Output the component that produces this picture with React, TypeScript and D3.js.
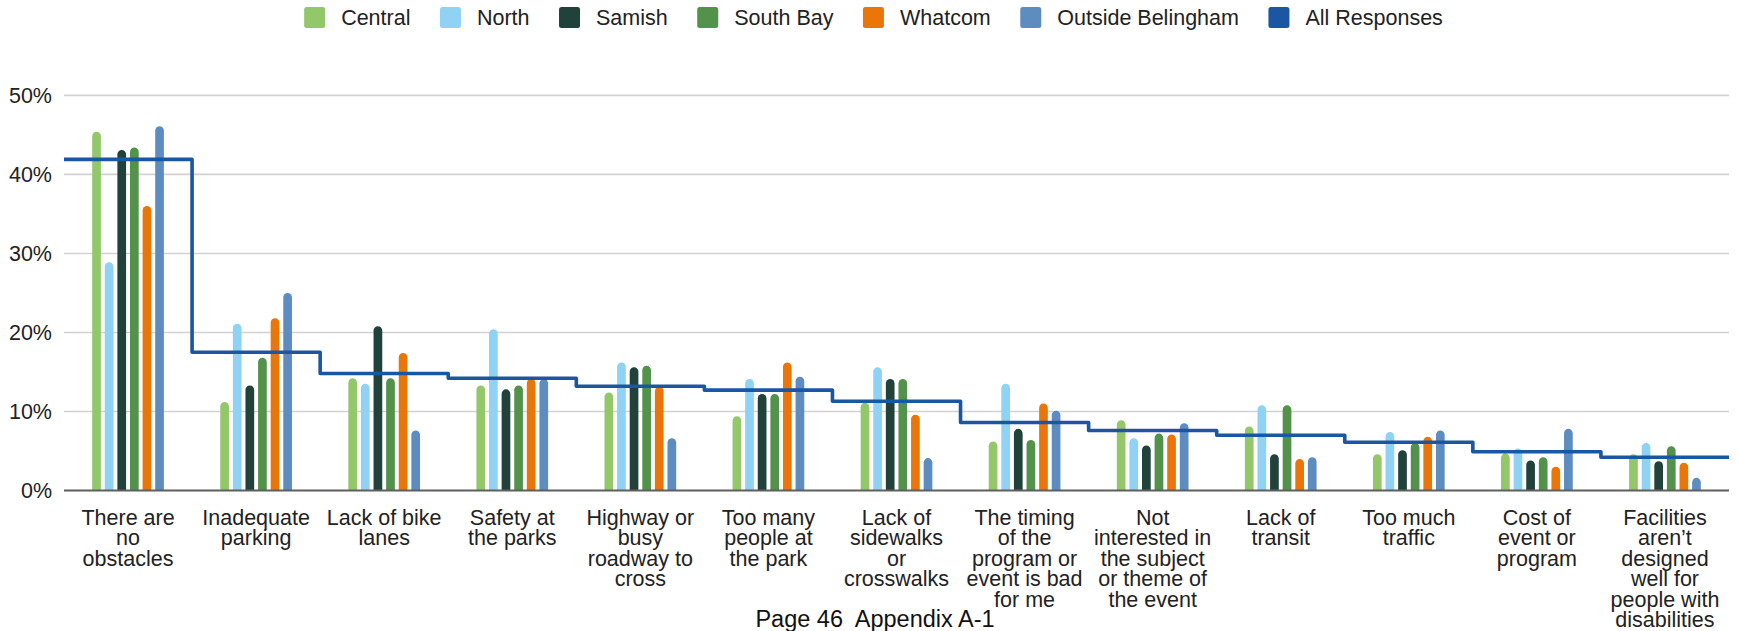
import React, { useEffect, useRef } from "react";
import * as d3 from "d3";

// ---------- DATA ----------
const categoryLabels: string[][] = [
  ["There are", "no", "obstacles"],
  ["Inadequate", "parking"],
  ["Lack of bike", "lanes"],
  ["Safety at", "the parks"],
  ["Highway or", "busy", "roadway to", "cross"],
  ["Too many", "people at", "the park"],
  ["Lack of", "sidewalks", "or", "crosswalks"],
  ["The timing", "of the", "program or", "event is bad", "for me"],
  ["Not", "interested in", "the subject", "or theme of", "the event"],
  ["Lack of", "transit"],
  ["Too much", "traffic"],
  ["Cost of", "event or", "program"],
  ["Facilities", "aren\u2019t", "designed", "well for", "people with", "disabilities"],
];
const categories = categoryLabels.map((l) => l.join(" "));

const seriesNames = ["Central", "North", "Samish", "South Bay", "Whatcom", "Outside Belingham"];
const lineName = "All Responses";

const central = [45.4, 11.2, 14.2, 13.3, 12.4, 9.4, 11.1, 6.2, 8.9, 8.1, 4.6, 4.7, 4.6];
const north = [28.9, 21.1, 13.5, 20.4, 16.2, 14.1, 15.6, 13.5, 6.6, 10.8, 7.4, 5.3, 6.0];
const samish = [43.1, 13.3, 20.8, 12.8, 15.6, 12.2, 14.1, 7.8, 5.7, 4.6, 5.1, 3.8, 3.7];
const southBay = [43.4, 16.8, 14.2, 13.3, 15.8, 12.2, 14.1, 6.4, 7.2, 10.8, 6.0, 4.2, 5.6];
const whatcom = [36.0, 21.8, 17.4, 14.1, 13.1, 16.2, 9.6, 11.0, 7.1, 4.0, 6.8, 3.0, 3.5];
const outside = [46.1, 25.0, 7.6, 14.1, 6.6, 14.4, 4.1, 10.1, 8.5, 4.2, 7.6, 7.8, 1.6];
const allResponses = [41.9, 17.5, 14.8, 14.2, 13.2, 12.7, 11.3, 8.6, 7.6, 7.0, 6.1, 4.9, 4.2];

const seriesValues = [central, north, samish, southBay, whatcom, outside];
const yTicks = [0, 10, 20, 30, 40, 50];
const footerText = "Page 46  Appendix A-1";

// ---------- STYLE ----------
const seriesColors = ["#92c86a", "#8fd2f3", "#21423a", "#53924a", "#ea7509", "#5d8cc1"];
const lineColor = "#1a56a2";
const FONT = "'Liberation Sans', Arial, Helvetica, sans-serif";

export default function App() {
  const ref = useRef<SVGSVGElement>(null);

  useEffect(() => {
    const svg = d3.select(ref.current as SVGSVGElement);
    svg.selectAll("*").remove();

    const W = 1740;
    const left = 64;
    const right = 1729;
    const yBase = 490.5;
    const yTop = 95.4;

    const x0 = d3.scaleBand<string>().domain(categories).range([left, right]);
    const bw = x0.bandwidth();
    const innerW = 71.7;
    const x1 = d3
      .scaleBand<string>()
      .domain(seriesNames)
      .range([(bw - innerW) / 2, (bw + innerW) / 2])
      .paddingInner(0.31);
    const y = d3.scaleLinear().domain([0, 50]).range([yBase, yTop]);

    // gridlines
    svg
      .append("g")
      .selectAll("line")
      .data(yTicks.filter((t) => t > 0))
      .join("line")
      .attr("x1", left)
      .attr("x2", right)
      .attr("y1", (d) => y(d))
      .attr("y2", (d) => y(d))
      .attr("stroke", "#d2d2d2")
      .attr("stroke-width", 1.6);

    // y labels
    svg
      .append("g")
      .selectAll("text")
      .data(yTicks)
      .join("text")
      .attr("x", 52)
      .attr("y", (d) => y(d))
      .attr("dy", "0.36em")
      .attr("text-anchor", "end")
      .attr("font-family", FONT)
      .attr("font-size", 21.5)
      .attr("fill", "#222")
      .text((d) => `${d}%`);

    // bars
    const barPath = (x: number, w: number, v: number) => {
      const top = y(v);
      const h = yBase - top;
      const r = Math.min(w / 2, h);
      const p = d3.path();
      p.moveTo(x, yBase);
      p.lineTo(x, top + r);
      p.arcTo(x, top, x + r, top, r);
      p.lineTo(x + w - r, top);
      p.arcTo(x + w, top, x + w, top + r, r);
      p.lineTo(x + w, yBase);
      p.closePath();
      return p.toString();
    };

    const barsG = svg.append("g");
    seriesNames.forEach((s, j) => {
      barsG
        .append("g")
        .selectAll("path")
        .data(seriesValues[j].map((v, i) => ({ v, c: categories[i] })))
        .join("path")
        .attr("d", (d) => barPath((x0(d.c) as number) + (x1(s) as number), x1.bandwidth(), d.v))
        .attr("fill", seriesColors[j]);
    });

    // baseline
    svg
      .append("line")
      .attr("x1", left)
      .attr("x2", right)
      .attr("y1", yBase)
      .attr("y2", yBase)
      .attr("stroke", "#5f5f5f")
      .attr("stroke-width", 2);

    // step line
    const pts: [number, number][] = allResponses.map((v, i) => [x0(categories[i]) as number, y(v)]);
    pts.push([right, y(allResponses[allResponses.length - 1])]);
    const line = d3.line().curve(d3.curveStepAfter);
    svg
      .append("path")
      .attr("d", line(pts) as string)
      .attr("fill", "none")
      .attr("stroke", lineColor)
      .attr("stroke-width", 3.6)
      .attr("stroke-linejoin", "round");

    // x labels
    const xl = svg.append("g");
    categories.forEach((c, i) => {
      const t = xl
        .append("text")
        .attr("text-anchor", "middle")
        .attr("font-family", FONT)
        .attr("font-size", 21.5)
        .attr("fill", "#222");
      categoryLabels[i].forEach((ln, k) => {
        t.append("tspan")
          .attr("x", (x0(c) as number) + bw / 2)
          .attr("y", 524.5 + k * 20.5)
          .text(ln);
      });
    });

    // legend
    const legendNames = [...seriesNames, lineName];
    const legendColors = [...seriesColors, lineColor];
    const lg = svg.append("g");
    const sw = 21;
    const swGap = 16;
    const itemGap = 29.5;
    const items = legendNames.map((n, i) => {
      const g = lg.append("g");
      g.append("rect")
        .attr("width", sw)
        .attr("height", sw)
        .attr("y", 7)
        .attr("rx", 2.5)
        .attr("fill", legendColors[i]);
      const t = g
        .append("text")
        .attr("x", sw + swGap)
        .attr("y", 25)
        .attr("font-family", FONT)
        .attr("font-size", 21.5)
        .attr("fill", "#222")
        .text(n);
      const tw = (t.node() as SVGTextElement).getComputedTextLength();
      return { g, w: sw + swGap + tw };
    });
    const total = d3.sum(items, (d) => d.w) + itemGap * (items.length - 1);
    let cx = 873.5 - total / 2;
    items.forEach((it) => {
      it.g.attr("transform", `translate(${cx},0)`);
      cx += it.w + itemGap;
    });

    // footer
    svg
      .append("text")
      .attr("x", 875)
      .attr("y", 627)
      .attr("text-anchor", "middle")
      .attr("font-family", FONT)
      .attr("font-size", 23.5)
      .attr("fill", "#111")
      .style("white-space", "pre")
      .text(footerText);
  }, []);

  return (
    <svg
      ref={ref}
      width={1740}
      height={631}
      style={{ position: "absolute", left: 0, top: 0, background: "#fff" }}
    />
  );
}
